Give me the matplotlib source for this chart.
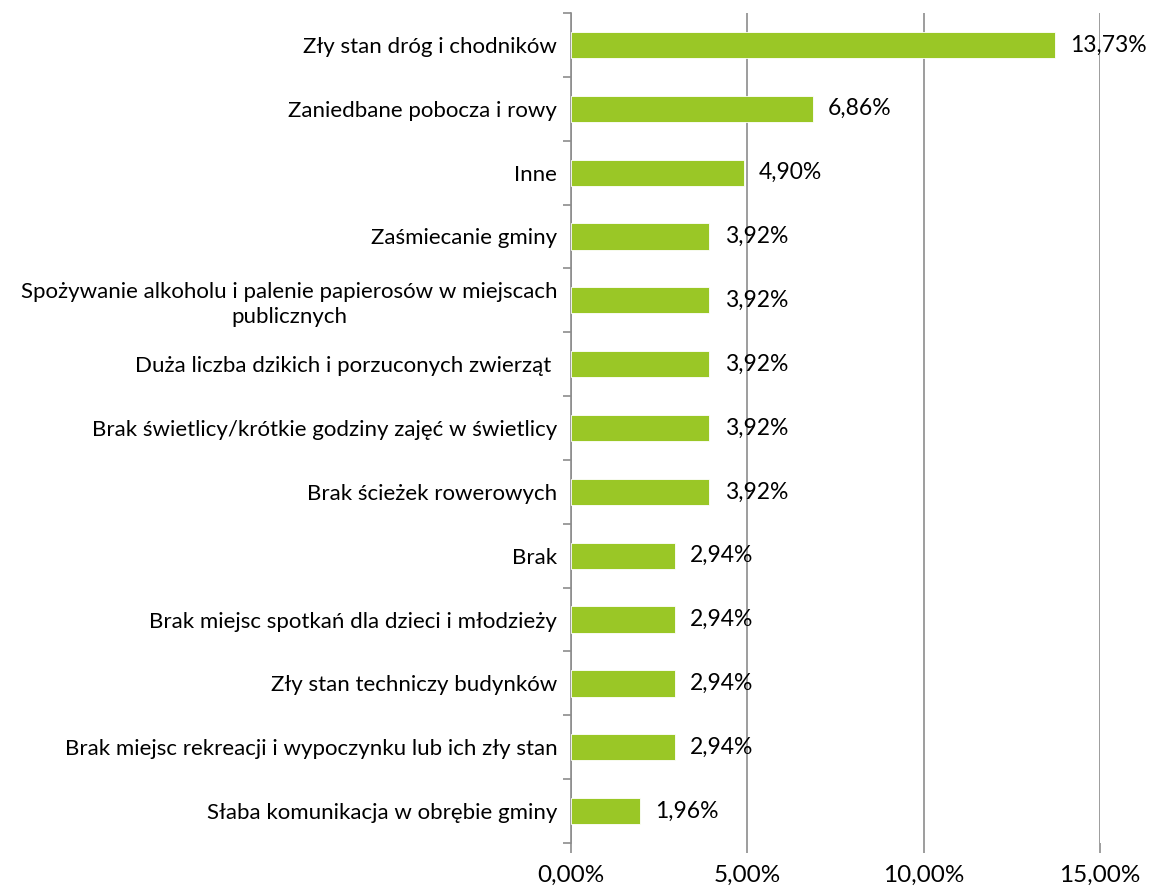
import matplotlib.pyplot as plt
import numpy as np

plt.rcParams['font.family'] = ['Lato', 'DejaVu Sans']

categories = [
    'Zły stan dróg i chodników',
    'Zaniedbane pobocza i rowy',
    'Inne',
    'Zaśmiecanie gminy',
    'Spożywanie alkoholu i palenie papierosów w miejscach\npublicznych',
    'Duża liczba dzikich i porzuconych zwierząt ',
    'Brak świetlicy/krótkie godziny zajęć w świetlicy',
    'Brak ścieżek rowerowych',
    'Brak',
    'Brak miejsc spotkań dla dzieci i młodzieży',
    'Zły stan techniczy budynków',
    'Brak miejsc rekreacji i wypoczynku lub ich zły stan',
    'Słaba komunikacja w obrębie gminy',
]
values = [13.73, 6.86, 4.90, 3.92, 3.92, 3.92, 3.92, 3.92, 2.94, 2.94, 2.94, 2.94, 1.96]
xticks = [0, 5, 10, 15]

green = '#9AC726'
gray = '#8C8C8C'

fig = plt.figure(figsize=(11.55, 8.89), dpi=100)
ax = fig.add_axes([0.4944, 0.0517, 0.458, 0.9337])

n = len(categories)
y = np.arange(n)[::-1]
ax.barh(y, values, height=0.41, color=green, edgecolor='white', linewidth=0.6, zorder=3)

for yi, v in zip(y, values):
    ax.annotate(f'{v:.2f}%'.replace('.', ','), (v, yi), xytext=(11, 0),
                textcoords='offset points', va='center', ha='left',
                fontsize=16.5, zorder=4)

ax.set_xlim(0, 15)
ax.set_ylim(-0.5, n - 0.5)
ax.set_xticks(xticks)
ax.set_xticklabels([f'{t:.2f}%'.replace('.', ',') for t in xticks], fontsize=17.5)
ax.tick_params(axis='x', length=7, color=gray, width=1.2, pad=9)

ax.set_yticks(y)
ax.set_yticklabels(categories, fontsize=16, ha='right', multialignment='center',
                   linespacing=1.3)
ax.set_yticks(np.arange(n + 1) - 0.5, minor=True)
ax.tick_params(axis='y', which='major', length=0, pad=10)
ax.tick_params(axis='y', which='minor', length=6, color=gray, width=1.2)

ax.grid(axis='x', color=gray, linewidth=1.2, zorder=0)
for s in ['top', 'right', 'bottom']:
    ax.spines[s].set_visible(False)
ax.spines['left'].set_color(gray)
ax.spines['left'].set_linewidth(1.2)

fig.savefig('out.png', dpi=100)
